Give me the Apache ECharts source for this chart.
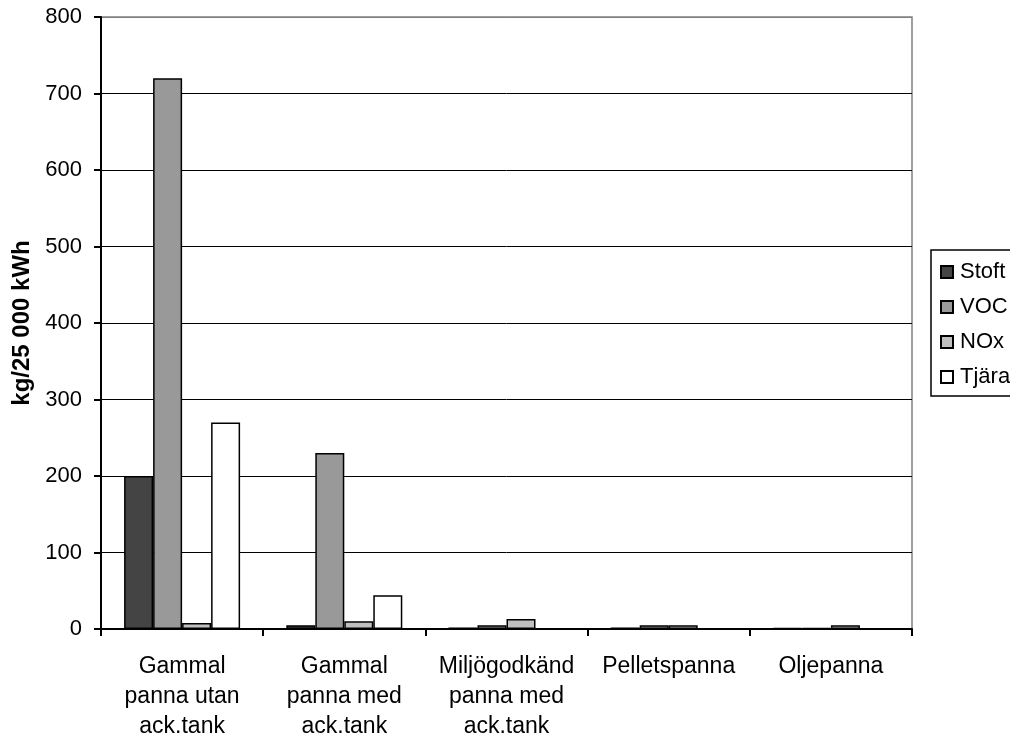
<!DOCTYPE html>
<html>
<head>
<meta charset="utf-8">
<script src="https://cdn.jsdelivr.net/npm/echarts@6/dist/echarts.min.js"></script>
<style>
  html, body { margin: 0; padding: 0; background: #fff; }
  #chart { width: 1010px; height: 738px; }
</style>
</head>
<body>
<div id="chart"></div>
<script>
// Categorias (etiquetas del eje x, en varias lineas)
const categorias = [
    'Gammal\npanna utan\nack.tank',
    'Gammal\npanna med\nack.tank',
    'Miljögodkänd\npanna med\nack.tank',
    'Pelletspanna',
    'Oljepanna'
];

// Valores por serie (kg/25 000 kWh)
const stoft = [200, 5, 2, 2, 1.5];
const voc = [720, 230, 5, 5, 1.5];
const nox = [8, 10, 13, 5, 5];
const tjara = [270, 44, 0, 0, 0.5];

const yTicks = [0, 100, 200, 300, 400, 500, 600, 700, 800];

const fuente = "'Liberation Sans', Arial, sans-serif";

const myChart = echarts.init(document.getElementById('chart'));

function serie(nombre, datos, color) {
    return {
        name: nombre,
        type: 'bar',
        data: datos,
        barWidth: 29,
        barGap: '0%',
        itemStyle: {
            color: color,
            borderColor: '#000',
            borderWidth: 1.5
        }
    };
}

option = {
    animation: false,
    backgroundColor: '#fff',
    textStyle: { fontFamily: fuente },
    grid: {
        left: 101,
        right: 98,
        top: 17,
        bottom: 109,
        containLabel: false,
        outerBoundsMode: 'none',
        show: true,
        borderColor: '#808080',
        borderWidth: 1.5
    },
    legend: {
        orient: 'vertical',
        left: 931,
        top: 250,
        padding: [11, 10, 8, 9],
        itemWidth: 12,
        itemHeight: 12,
        itemGap: 13,
        icon: 'rect',
        borderColor: '#000',
        borderWidth: 1.5,
        textStyle: {
            fontSize: 22,
            color: '#000',
            fontFamily: fuente,
            padding: [0, 0, 0, 2]
        },
        data: ['Stoft', 'VOC', 'NOx', 'Tjära']
    },
    xAxis: {
        type: 'category',
        data: categorias,
        axisLine: { lineStyle: { color: '#000', width: 2 } },
        axisTick: { show: true, length: 7, lineStyle: { color: '#000', width: 2 } },
        axisLabel: {
            fontSize: 23,
            lineHeight: 30,
            color: '#000',
            margin: 23,
            interval: 0,
            fontFamily: fuente
        },
        splitLine: { show: false }
    },
    yAxis: {
        type: 'value',
        min: yTicks[0],
        max: yTicks[yTicks.length - 1],
        interval: 100,
        name: 'kg/25 000 kWh',
        nameLocation: 'middle',
        nameRotate: 90,
        nameGap: 67,
        nameTextStyle: {
            fontSize: 24,
            fontWeight: 'bold',
            color: '#000',
            fontFamily: fuente
        },
        axisLine: { show: true, lineStyle: { color: '#000', width: 2 } },
        axisTick: { show: true, length: 7, lineStyle: { color: '#000', width: 2 } },
        axisLabel: {
            fontSize: 22,
            color: '#000',
            margin: 19,
            fontFamily: fuente
        },
        // ultima linea (800) en gris como el borde del area
        splitLine: {
            show: true,
            lineStyle: {
                color: ['#000', '#000', '#000', '#000', '#000', '#000', '#000', '#000', '#808080'],
                width: 1
            }
        }
    },
    series: [
        serie('Stoft', stoft, '#444444'),
        serie('VOC', voc, '#999999'),
        serie('NOx', nox, '#c0c0c0'),
        serie('Tjära', tjara, '#ffffff')
    ]
};

myChart.setOption(option);
</script>
</body>
</html>
